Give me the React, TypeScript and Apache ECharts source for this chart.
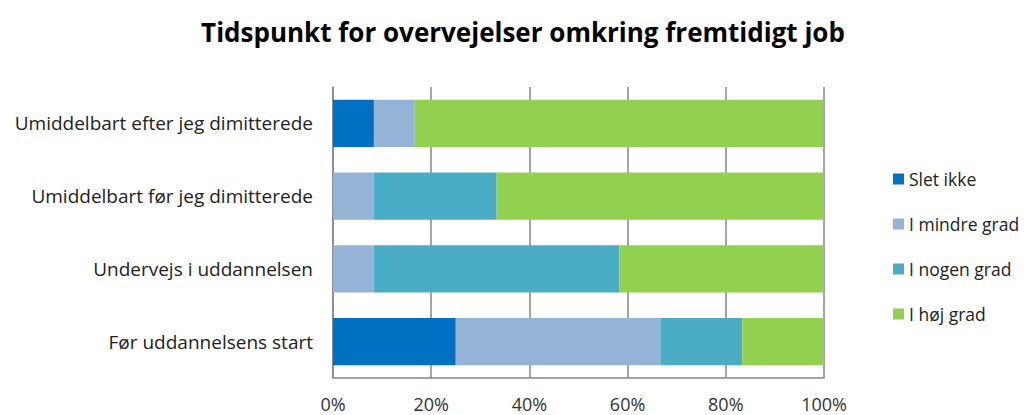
import React, { useEffect, useRef } from "react";
import * as echarts from "echarts";

const categories = [
  "Før uddannelsens start",
  "Undervejs i uddannelsen",
  "Umiddelbart før jeg dimitterede",
  "Umiddelbart efter jeg dimitterede",
];
const sletIkke = [25, 0, 0, 8.33];
const iMindreGrad = [41.67, 8.33, 8.33, 8.33];
const iNogenGrad = [16.67, 50, 25, 0];
const iHoejGrad = [16.67, 41.67, 66.67, 83.33];
const seriesNames = ["Slet ikke", "I mindre grad", "I nogen grad", "I høj grad"];
const colors = ["#0070C0", "#95B3D7", "#4BACC6", "#92D050"];

const FONT = "'Open Sans', sans-serif";

export default function App() {
  const ref = useRef<HTMLDivElement>(null);
  useEffect(() => {
    if (!ref.current) return;
    const chart = echarts.init(ref.current, undefined, { renderer: "svg" });
    const values = [sletIkke, iMindreGrad, iNogenGrad, iHoejGrad];
    chart.setOption({
      animation: false,
      title: {
        text: "Tidspunkt for overvejelser omkring fremtidigt job",
        left: 510,
        textAlign: "center",
        top: 6,
        textStyle: { fontFamily: FONT, fontSize: 26, fontWeight: "bold", color: "#000" },
      },
      legend: {
        orient: "vertical",
        left: 880,
        top: 157,
        itemWidth: 11,
        itemHeight: 11,
        itemGap: 27,
        itemStyle: { borderWidth: 0 },
        icon: "rect",
        textStyle: { fontFamily: FONT, fontSize: 17.5, color: "#222" },
        data: seriesNames,
      },
      grid: { left: 325, right: 203, top: 79, bottom: 37 },
      xAxis: {
        type: "value",
        min: 0,
        max: 100,
        interval: 20,
        axisLabel: {
          formatter: "{value}%",
          fontFamily: FONT,
          fontSize: 18,
          color: "#333",
          margin: 17,
        },
        axisLine: { show: true, lineStyle: { color: "#868686", width: 1.5 } },
        axisTick: { show: false },
        splitLine: { show: true, lineStyle: { color: "#868686", width: 1.5 } },
      },
      yAxis: {
        type: "category",
        data: categories,
        axisLabel: { fontFamily: FONT, fontSize: 19, color: "#222", margin: 20 },
        axisLine: { show: true, lineStyle: { color: "#868686", width: 1.5 } },
        axisTick: { show: false },
      },
      series: seriesNames.map((name, i) => ({
        name,
        type: "bar",
        stack: "total",
        barCategoryGap: "35%",
        itemStyle: { color: colors[i] },
        data: values[i],
      })),
    });
    return () => chart.dispose();
  }, []);
  return <div ref={ref} style={{ width: 1019, height: 407 }} />;
}
